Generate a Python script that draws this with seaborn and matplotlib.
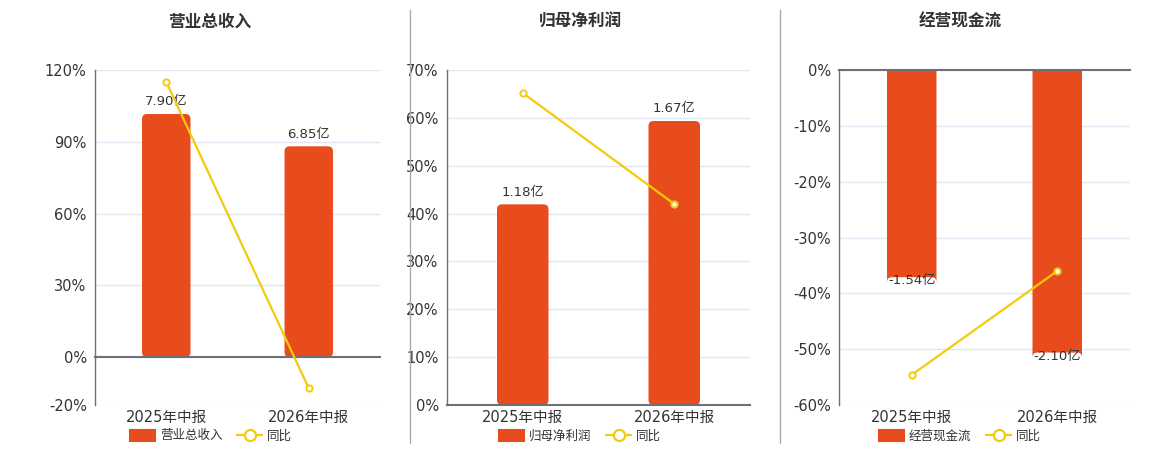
import numpy as np
import pandas as pd
import matplotlib
matplotlib.use("Agg")
import matplotlib.pyplot as plt
import seaborn as sns
from matplotlib.lines import Line2D
from matplotlib.patches import Patch, FancyBboxPatch

# data
periods = ["2025年中报", "2026年中报"]
titles = ["营业总收入", "归母净利润", "经营现金流"]
bar_values = [[7.90, 6.85], [1.18, 1.67], [-1.54, -2.10]]
bar_labels = [["7.90亿", "6.85亿"], ["1.18亿", "1.67亿"], ["-1.54亿", "-2.10亿"]]
yoy_values = [[115.0, -13.0], [65.2, 42.0], [-54.6, -36.0]]
pct_ticks = [[-20, 0, 30, 60, 90, 120],
             [0, 10, 20, 30, 40, 50, 60, 70],
             [-60, -50, -40, -30, -20, -10, 0]]
# scale of hidden bar axis: bar units per percent
bar_scale = [9.33 / 120, 1.97 / 70, 2.49 / 60]

BAR = "#E84C1C"
LINE = "#F2CB0C"
AXIS = "#6E7079"
GRID = "#E0E6F1"
TEXT = "#333333"

sns.set_style("white")
plt.rcParams["font.family"] = ["DejaVu Sans", "Noto Sans CJK SC"]

W, H = 1160, 450
fig = plt.figure(figsize=(11.6, 4.5), dpi=100)

# pixel boxes: left, right, top, bottom
boxes = [(95, 380, 70, 405), (447, 750, 70, 405), (839, 1130, 70, 405)]
title_x = [210, 580, 960]
legend_x = [211, 580, 960]

for i in range(3):
    l, r, t, b = boxes[i]
    ax = fig.add_axes([l / W, 1 - b / H, (r - l) / W, (b - t) / H])
    ticks = pct_ticks[i]
    s = bar_scale[i]

    df = pd.DataFrame({"period": periods, "value": bar_values[i]})
    sns.barplot(data=df, x="period", y="value", color=BAR, width=0.34,
                saturation=1, ax=ax, zorder=2)

    ax.set_ylim(min(ticks) * s, max(ticks) * s)
    ax.set_xlim(-0.5, 1.5)

    # swap plain rectangles for rounded ones
    x_per_px = 2.0 / (r - l)
    y_per_px = (max(ticks) - min(ticks)) * s / (b - t)
    rects = list(ax.patches)
    for p in rects:
        x0, y0, w, h = p.get_x(), p.get_y(), p.get_width(), p.get_height()
        p.set_visible(False)
        ax.add_patch(FancyBboxPatch((x0, y0), w, h,
                                    boxstyle=f"round,pad=0,rounding_size={5 * x_per_px}",
                                    mutation_aspect=y_per_px / x_per_px,
                                    facecolor=BAR, edgecolor="none", zorder=2))

    ax.set_yticks(np.array(ticks) * s)
    ax.set_yticklabels([])
    ax.tick_params(axis="y", length=0)
    ax.yaxis.grid(True, color=GRID, linewidth=1, zorder=0)
    ax.set_axisbelow(True)

    # value labels
    for j, p in enumerate(rects):
        v = bar_values[i][j]
        x = p.get_x() + p.get_width() / 2
        if v >= 0:
            ax.annotate(bar_labels[i][j], (x, v), xytext=(0, 4), textcoords="offset points",
                        ha="center", va="bottom", fontsize=9.5, color=TEXT)
        else:
            ax.annotate(bar_labels[i][j], (x, v), xytext=(0, 2), textcoords="offset points",
                        ha="center", va="top", fontsize=9.5, color=TEXT)

    # zero axis line with boundary ticks
    for sp in ["top", "right"]:
        ax.spines[sp].set_visible(False)
    ax.spines["bottom"].set_position(("data", 0))
    ax.spines["bottom"].set_color(AXIS)
    ax.spines["bottom"].set_linewidth(1.5)
    ax.spines["left"].set_color(AXIS)
    ax.spines["left"].set_linewidth(1)
    ax.set_xticks([-0.5, 0.5, 1.5])
    ax.set_xticklabels([])
    ax.tick_params(axis="x", direction="out", length=5, color=AXIS, width=1)
    ax.set_xlabel("")
    ax.set_ylabel("")
    for j, name in enumerate(periods):
        ax.text(j, -0.015, name, transform=ax.get_xaxis_transform(), ha="center",
                va="top", fontsize=10.5, color=TEXT)

    # yoy line on twin axis, ticks shown on the left
    ax2 = ax.twinx()
    sns.lineplot(x=[0, 1], y=yoy_values[i], ax=ax2, color=LINE, linewidth=1.6,
                 marker="o", markersize=4.5, markerfacecolor="white",
                 markeredgecolor=LINE, markeredgewidth=1.4)
    ax2.set_ylim(min(ticks), max(ticks))
    ax2.set_yticks(ticks)
    ax2.set_yticklabels([f"{v}%" for v in ticks], fontsize=10.5, color=TEXT)
    ax2.yaxis.tick_left()
    ax2.tick_params(axis="y", length=0, pad=6)
    for sp in ax2.spines.values():
        sp.set_visible(False)
    ax2.grid(False)
    ax2.set_xlim(-0.5, 1.5)

    fig.text(title_x[i] / W, 1 - 22 / H, titles[i], ha="center", va="center",
             fontsize=12, fontweight="bold", color=TEXT)

    handles = [Patch(facecolor=BAR, edgecolor=BAR, label=titles[i], joinstyle="round",
                     linewidth=1.5),
               Line2D([0], [0], color=LINE, linewidth=1.6, marker="o", markersize=8,
                      markerfacecolor="white", markeredgecolor=LINE,
                      markeredgewidth=1.6, label="同比")]
    fig.legend(handles=handles, loc="center", bbox_to_anchor=(legend_x[i] / W, 1 - 436 / H),
               ncol=2, frameon=False, fontsize=9, handlelength=2.0, handleheight=1.0,
               columnspacing=1.2, handletextpad=0.4, labelcolor=TEXT)

# separators
for x in [410, 780]:
    fig.add_artist(Line2D([x / W, x / W], [1 - 10 / H, 1 - 443 / H], color="#AAAAAA",
                          linewidth=1, transform=fig.transFigure))

fig.savefig("out.png", dpi=100, facecolor="white")
